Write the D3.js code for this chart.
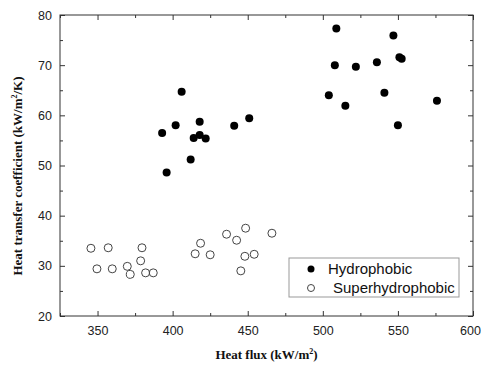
<!DOCTYPE html>
<html>
<head>
<meta charset="utf-8">
<script src="https://cdn.jsdelivr.net/npm/d3@7"></script>
<style>
  body { margin: 0; background: #fff; }
  .tick text { font-family: "Liberation Sans", Arial, sans-serif; font-size: 12.5px; fill: #222; }
  .axis-title { font-family: "Liberation Serif", "Times New Roman", serif; font-weight: bold; font-size: 13px; fill: #111; }
  .legend-text { font-family: "Liberation Sans", Arial, sans-serif; font-size: 15px; fill: #111; }
</style>
</head>
<body>
<div id="chart"></div>
<script>
var hydroFlux = [393, 396, 402, 406, 412, 414, 418, 418, 422, 441, 451, 504, 508, 509, 515, 522, 536, 541, 547, 550, 551, 552.5, 576];
var hydroHtc  = [56.5, 48.6, 58, 64.7, 51.2, 55.5, 58.7, 56.1, 55.4, 57.9, 59.4, 64, 70, 77.3, 61.9, 69.7, 70.6, 64.5, 75.9, 58, 71.6, 71.3, 62.9];
var superFlux = [345.6, 349.6, 357.1, 359.8, 369.8, 371.8, 379.6, 378.7, 382, 387.1, 415, 418.6, 425, 435.9, 442.6, 448.6, 448.1, 445.4, 454.3, 466.1];
var superHtc  = [33.5, 29.4, 33.6, 29.4, 29.9, 28.3, 33.6, 31, 28.6, 28.6, 32.4, 34.5, 32.2, 36.3, 35.1, 37.5, 31.9, 29, 32.3, 36.5];
var xTicks = [350, 400, 450, 500, 550, 600];
var yTicks = [20, 30, 40, 50, 60, 70, 80];
var seriesNames = ["Hydrophobic", "Superhydrophobic"];

var svgWidth = 481;
var svgHeight = 365;
var margin = {top: 15, right: 8, bottom: 49, left: 60};
var width = svgWidth - margin.left - margin.right;
var height = svgHeight - margin.top - margin.bottom;

var svg = d3.select("#chart").append("svg")
    .attr("width", svgWidth)
    .attr("height", svgHeight);
var chart = svg.append("g")
    .attr("transform", "translate(" + margin.left + "," + margin.top + ")");

var x = d3.scaleLinear().domain([325, 600]).range([0, width]);
var y = d3.scaleLinear().domain([20, 80]).range([height, 0]);

var xMinor = d3.range(325, 601, 25).filter(function(v) { return xTicks.indexOf(v) < 0; });
var yMinor = d3.range(25, 80, 10);

function styleAxis(g) {
    g.select(".domain").remove();
    g.selectAll(".tick line").attr("stroke", "#333");
}

// major ticks with labels
var xAxisG = chart.append("g")
    .attr("transform", "translate(0," + height + ")")
    .call(d3.axisBottom(x).tickValues(xTicks).tickSize(-5).tickPadding(10))
    .call(styleAxis);
// keep the last label inside the window
xAxisG.selectAll(".tick text").filter(function(d) { return d === 600; }).attr("dx", -3);
chart.append("g")
    .call(d3.axisLeft(y).tickValues(yTicks).tickSize(-5).tickPadding(8))
    .call(styleAxis);
// top and right, no labels
chart.append("g")
    .call(d3.axisTop(x).tickValues(xTicks).tickSize(-5).tickFormat(""))
    .call(styleAxis);
chart.append("g")
    .attr("transform", "translate(" + width + ",0)")
    .call(d3.axisRight(y).tickValues(yTicks).tickSize(-5).tickFormat(""))
    .call(styleAxis);
// minor ticks
chart.append("g").attr("transform", "translate(0," + height + ")")
    .call(d3.axisBottom(x).tickValues(xMinor).tickSize(-3).tickFormat("")).call(styleAxis);
chart.append("g")
    .call(d3.axisTop(x).tickValues(xMinor).tickSize(-3).tickFormat("")).call(styleAxis);
chart.append("g")
    .call(d3.axisLeft(y).tickValues(yMinor).tickSize(-3).tickFormat("")).call(styleAxis);
chart.append("g").attr("transform", "translate(" + width + ",0)")
    .call(d3.axisRight(y).tickValues(yMinor).tickSize(-3).tickFormat("")).call(styleAxis);

// frame
chart.append("rect")
    .attr("width", width)
    .attr("height", height)
    .attr("fill", "none")
    .attr("stroke", "#333")
    .attr("stroke-width", 1);

// points
chart.selectAll(".hydro")
    .data(d3.range(hydroFlux.length))
    .enter().append("circle")
    .attr("class", "hydro")
    .attr("cx", function(i) { return x(hydroFlux[i]); })
    .attr("cy", function(i) { return y(hydroHtc[i]); })
    .attr("r", 4)
    .attr("fill", "#000");

chart.selectAll(".super")
    .data(d3.range(superFlux.length))
    .enter().append("circle")
    .attr("class", "super")
    .attr("cx", function(i) { return x(superFlux[i]); })
    .attr("cy", function(i) { return y(superHtc[i]); })
    .attr("r", 4)
    .attr("fill", "none")
    .attr("stroke", "#444")
    .attr("stroke-width", 1);

// legend
var legend = chart.append("g").attr("transform", "translate(229,243)");
legend.append("rect")
    .attr("width", 170)
    .attr("height", 39)
    .attr("fill", "#fff")
    .attr("stroke", "#999");
legend.append("circle").attr("cx", 22).attr("cy", 11).attr("r", 3.5).attr("fill", "#000");
legend.append("circle").attr("cx", 22).attr("cy", 30).attr("r", 3.5)
    .attr("fill", "none").attr("stroke", "#444");
legend.append("text").attr("class", "legend-text").attr("x", 39).attr("y", 16).text(seriesNames[0]);
legend.append("text").attr("class", "legend-text").attr("x", 44).attr("y", 35).text(seriesNames[1]);

// axis titles
var xt = svg.append("text")
    .attr("class", "axis-title")
    .attr("text-anchor", "middle")
    .attr("x", margin.left + width / 2)
    .attr("y", 359);
xt.append("tspan").text("Heat flux (kW/m");
xt.append("tspan").attr("dy", -5).style("font-size", "8px").text("2");
xt.append("tspan").attr("dy", 5).text(")");

var yt = svg.append("text")
    .attr("class", "axis-title")
    .attr("text-anchor", "middle")
    .attr("transform", "translate(22," + 176 + ") rotate(-90)");
yt.append("tspan").text("Heat transfer coefficient (kW/m");
yt.append("tspan").attr("dy", -5).style("font-size", "8px").text("2");
yt.append("tspan").attr("dy", 5).text("/K)");
</script>
</body>
</html>
